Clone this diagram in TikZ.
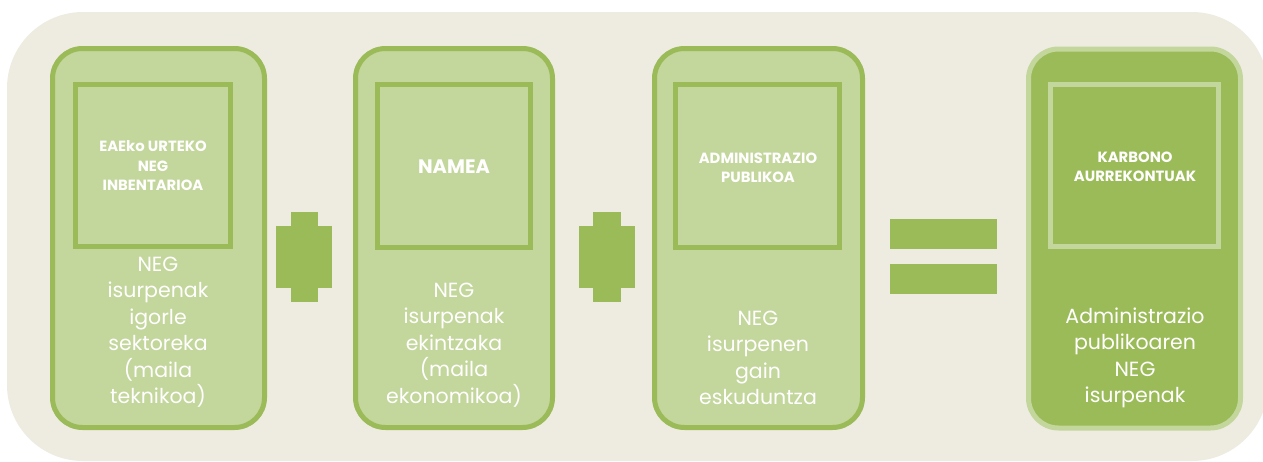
\documentclass[tikz,border=0pt]{standalone}
\usepackage{fontspec}
\setmainfont{Poppins}
\definecolor{bgbeige}{HTML}{EEECE1}
\definecolor{gdark}{HTML}{9BBB59}
\definecolor{glight}{HTML}{C3D69B}
\begin{document}
\begin{tikzpicture}[x=1pt,y=-1pt,
  outerbox/.style={draw=gdark,fill=glight,line width=5pt,rounded corners=30pt,inner sep=0pt},
  outerboxdark/.style={draw=glight,fill=gdark,line width=5pt,rounded corners=30pt,inner sep=0pt},
  innerbox/.style={draw=gdark,fill=glight,line width=5pt,inner sep=0pt},
  innerboxdark/.style={draw=glight,fill=gdark,line width=5pt,inner sep=0pt},
  titletext/.style={text=white,font=\bfseries\fontsize{14.8}{19.5}\selectfont,align=center,inner sep=0pt},
  bodytext/.style={text=white,font=\fontsize{20.5}{26.5}\selectfont,align=center,inner sep=0pt},
  opshape/.style={fill=gdark}
]
\useasboundingbox (0,0) rectangle (1263,461);
\clip (0,0) rectangle (1263,461);
\fill[bgbeige,rounded corners=76pt] (7,12) rectangle (1268,461);

% boxes
\node[outerbox,minimum width=212pt,minimum height=379pt] (b1) at (158.5,238) {};
\node[innerbox,minimum width=155pt,minimum height=162pt] (i1) at (153,165.5) {};
\node[outerbox,minimum width=197pt,minimum height=379pt] (b2) at (454,238) {};
\node[innerbox,minimum width=153pt,minimum height=163pt] (i2) at (454,166) {};
\node[outerbox,minimum width=208pt,minimum height=379pt] (b3) at (758.5,238) {};
\node[innerbox,minimum width=164pt,minimum height=163pt] (i3) at (757.5,166) {};
\node[outerboxdark,minimum width=212pt,minimum height=379pt] (b4) at (1134.5,238.5) {};
\node[innerboxdark,minimum width=168pt,minimum height=162pt] (i4) at (1134.5,165.5) {};

% titles
\node[titletext] (t1) at (153,166) {EAEko URTEKO\\NEG\\INBENTARIOA};
\node[titletext,font=\bfseries\fontsize{19.5}{22}\selectfont] (t2) at (454,167) {NAMEA};
\node[titletext] (t3) at (758,168) {ADMINISTRAZIO\\PUBLIKOA};
\node[titletext] (t4) at (1135,167) {KARBONO\\AURREKONTUAK};

% body texts
\node[bodytext] (x1) at (158,332) {NEG\\isurpenak\\igorle\\sektoreka\\(maila\\teknikoa)};
\node[bodytext] (x2) at (454,345) {NEG\\isurpenak\\ekintzaka\\(maila\\ekonomikoa)};
\node[bodytext] (x3) at (758,358) {NEG\\isurpenen\\gain\\eskuduntza};
\node[bodytext] (x4) at (1135,358) {Administrazio\\publikoaren\\NEG\\isurpenak};

% plus signs
\fill[opshape] (276,226) rectangle (332,288);
\fill[opshape] (291,212) rectangle (318,302);
\fill[opshape] (579,226) rectangle (635,288);
\fill[opshape] (593,212) rectangle (621,302);
% equals
\fill[opshape] (890,219) rectangle (997,249);
\fill[opshape] (890,264) rectangle (997,294);
\end{tikzpicture}
\end{document}
